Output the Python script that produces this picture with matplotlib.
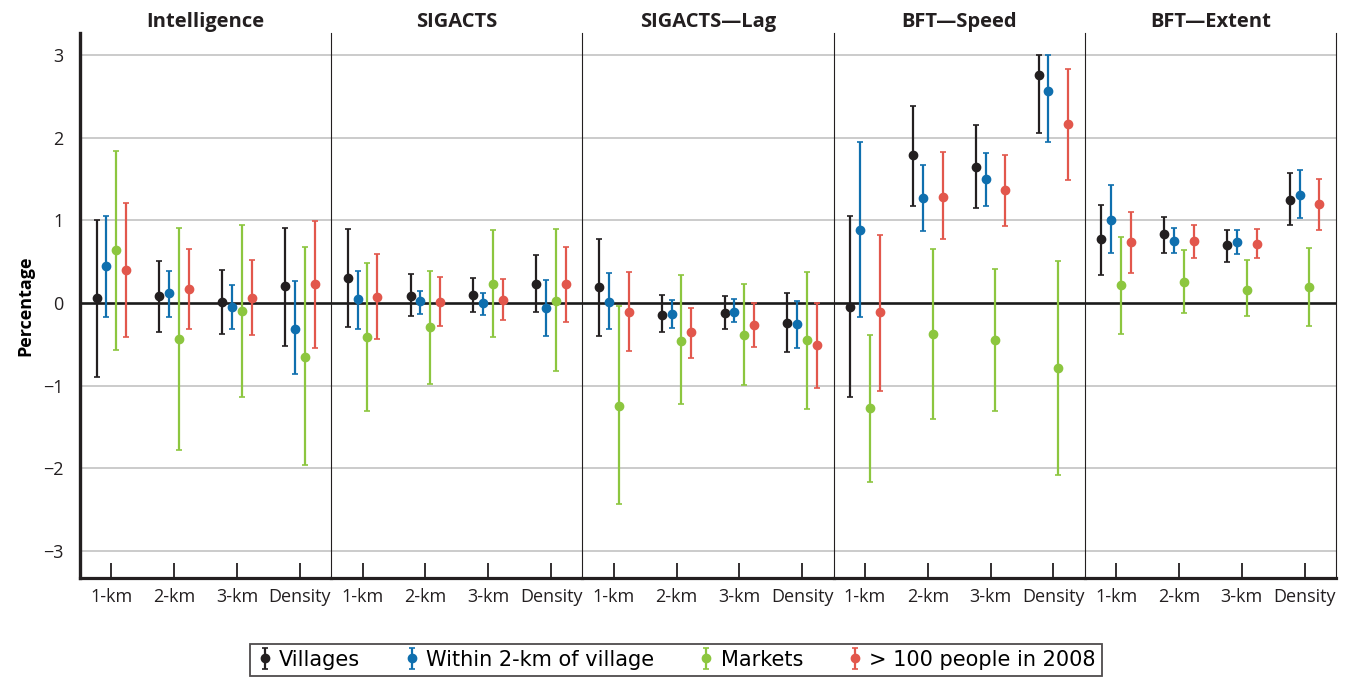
import numpy as np
import matplotlib
matplotlib.use('Agg')
import matplotlib.pyplot as plt

plt.rcParams['font.family'] = ['Open Sans', 'DejaVu Sans']

panels = ['Intelligence', 'SIGACTS', 'SIGACTS\u2014Lag', 'BFT\u2014Speed', 'BFT\u2014Extent']
groups = ['1-km', '2-km', '3-km', 'Density']
series = ['Villages', 'Within 2-km of village', 'Markets', '> 100 people in 2008']
colors = ['#231f20', '#0f6fae', '#8cc63f', '#e2574c']

# rows = panels, columns = groups
villages_est = [[0.06, 0.09, 0.01, 0.21], [0.30, 0.09, 0.10, 0.23], [0.20, -0.14, -0.12, -0.24],
                [-0.05, 1.79, 1.65, 2.76], [0.77, 0.83, 0.70, 1.25]]
villages_lo = [[-0.90, -0.35, -0.37, -0.52], [-0.29, -0.16, -0.11, -0.11], [-0.40, -0.35, -0.31, -0.59],
               [-1.14, 1.18, 1.15, 2.06], [0.34, 0.60, 0.50, 0.94]]
villages_hi = [[1.01, 0.51, 0.40, 0.91], [0.90, 0.35, 0.30, 0.58], [0.78, 0.10, 0.09, 0.12],
               [1.05, 2.38, 2.15, 3.00], [1.19, 1.04, 0.89, 1.57]]

within_est = [[0.45, 0.12, -0.05, -0.31], [0.05, 0.02, 0.00, -0.06], [0.01, -0.13, -0.11, -0.25],
              [0.89, 1.27, 1.50, 2.57], [1.01, 0.75, 0.74, 1.31]]
within_lo = [[-0.17, -0.17, -0.32, -0.86], [-0.31, -0.13, -0.14, -0.40], [-0.32, -0.30, -0.23, -0.54],
             [-0.17, 0.87, 1.17, 1.95], [0.60, 0.60, 0.59, 1.03]]
within_hi = [[1.05, 0.39, 0.22, 0.27], [0.39, 0.15, 0.12, 0.28], [0.36, 0.04, 0.05, 0.02],
             [1.95, 1.67, 1.82, 3.00], [1.43, 0.91, 0.89, 1.61]]

markets_est = [[0.64, -0.44, -0.10, -0.65], [-0.41, -0.29, 0.23, 0.02], [-1.25, -0.46, -0.39, -0.45],
               [-1.27, -0.38, -0.45, -0.79], [0.22, 0.26, 0.16, 0.19]]
markets_lo = [[-0.57, -1.78, -1.14, -1.96], [-1.31, -0.98, -0.41, -0.82], [-2.43, -1.22, -0.99, -1.28],
              [-2.17, -1.40, -1.31, -2.08], [-0.37, -0.12, -0.16, -0.28]]
markets_hi = [[1.84, 0.91, 0.95, 0.68], [0.48, 0.39, 0.88, 0.90], [-0.04, 0.34, 0.23, 0.38],
              [-0.39, 0.66, 0.41, 0.51], [0.80, 0.64, 0.52, 0.67]]

people_est = [[0.40, 0.17, 0.06, 0.23], [0.07, 0.01, 0.04, 0.23], [-0.11, -0.35, -0.27, -0.51],
              [-0.11, 1.29, 1.37, 2.17], [0.74, 0.75, 0.72, 1.20]]
people_lo = [[-0.41, -0.32, -0.39, -0.55], [-0.44, -0.28, -0.21, -0.23], [-0.58, -0.66, -0.53, -1.03],
             [-1.07, 0.78, 0.93, 1.49], [0.36, 0.54, 0.54, 0.89]]
people_hi = [[1.21, 0.66, 0.52, 0.99], [0.59, 0.32, 0.29, 0.68], [0.38, -0.06, 0.00, 0.00],
             [0.82, 1.83, 1.79, 2.84], [1.10, 0.95, 0.90, 1.50]]

est_all = [villages_est, within_est, markets_est, people_est]
lo_all = [villages_lo, within_lo, markets_lo, people_lo]
hi_all = [villages_hi, within_hi, markets_hi, people_hi]
offsets = [-0.235, -0.08, 0.075, 0.235]

fig, axes = plt.subplots(1, 5, sharey=True, figsize=(13.46, 6.77), dpi=100)
fig.subplots_adjust(left=80/1346, right=1336/1346, bottom=1-578/677, top=1-33/677, wspace=0)

xpos = np.arange(len(groups)) + 0.5
handles = []
for p, ax in enumerate(axes):
    for s in range(len(series)):
        est = np.array(est_all[s][p])
        lo = np.array(lo_all[s][p])
        hi = np.array(hi_all[s][p])
        h = ax.errorbar(xpos + offsets[s], est, yerr=[est - lo, hi - est], fmt='o',
                        color=colors[s], ms=6, elinewidth=1.6, capsize=2.5, capthick=1.2,
                        zorder=3, label=series[s])
        if p == 0:
            handles.append(h)
    ax.axhline(0, color='#1a1a1a', lw=1.9, zorder=2)
    for g in [-3, -2, -1, 1, 2, 3]:
        ax.axhline(g, color='#bdbdbd', lw=1.1, zorder=1)
    ax.set_xlim(0, 4)
    ax.set_ylim(-3.33, 3.27)
    ax.set_xticks(xpos)
    ax.set_xticklabels(groups, fontsize=13, color='#231f20')
    ax.tick_params(axis='x', direction='in', length=11, width=1.3, pad=7, color='#231f20')
    ax.tick_params(axis='y', length=0, pad=12, labelsize=13, labelcolor='#231f20')
    ax.set_title(panels[p], fontsize=14.5, fontweight='bold', pad=4, color='#231f20')
    ax.spines['top'].set_visible(False)
    ax.spines['right'].set_visible(p == 4)
    ax.spines['right'].set_linewidth(0.8)
    ax.spines['bottom'].set_linewidth(2.3)
    ax.spines['left'].set_linewidth(2.4 if p == 0 else 0.8)
    for sp in ax.spines.values():
        sp.set_color('#231f20')

axes[0].set_yticks([-3, -2, -1, 0, 1, 2, 3])
axes[0].set_yticklabels(['\u22123', '\u22122', '\u22121', '0', '1', '2', '3'])
axes[0].set_ylabel('Percentage', fontsize=13, fontweight='bold', labelpad=6)

leg = fig.legend(handles, series, loc='lower left', ncol=4, mode='expand',
                 bbox_to_anchor=(250/1346, 1/677, 852/1346, 38/677),
                 prop={'family': ['Liberation Sans Narrow', 'DejaVu Sans Condensed', 'DejaVu Sans'], 'size': 15},
                 frameon=True, fancybox=False, handlelength=0.8, handletextpad=0.3,
                 borderaxespad=0, borderpad=0.3)
leg.get_frame().set_edgecolor('#231f20')
leg.get_frame().set_linewidth(1.3)

plt.savefig('out.png', dpi=100)
